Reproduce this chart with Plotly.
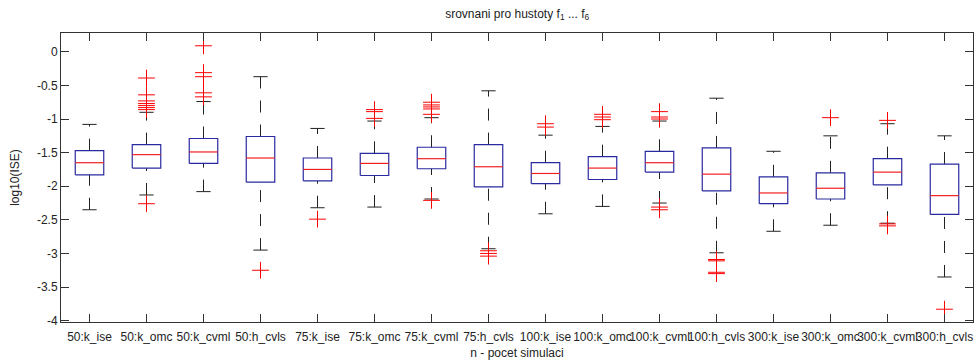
import plotly.graph_objects as go

labels = ["50:k_ise", "50:k_omc", "50:k_cvml", "50:h_cvls",
          "75:k_ise", "75:k_omc", "75:k_cvml", "75:h_cvls",
          "100:k_ise", "100:k_omc", "100:k_cvml", "100:h_cvls",
          "300:k_ise", "300:k_omc", "300:k_cvml", "300:h_cvls"]

upper_whisker = [-1.08, -0.90, -0.74, -0.37, -1.14, -1.03, -0.98, -0.58,
                 -1.24, -1.11, -1.03, -0.69, -1.48, -1.25, -1.07, -1.25]
q3 = [-1.47, -1.38, -1.29, -1.26, -1.58, -1.51, -1.42, -1.38,
      -1.65, -1.56, -1.48, -1.43, -1.86, -1.80, -1.59, -1.67]
median = [-1.65, -1.53, -1.49, -1.58, -1.75, -1.66, -1.59, -1.71,
          -1.81, -1.73, -1.65, -1.82, -2.10, -2.03, -1.79, -2.14]
q1 = [-1.83, -1.73, -1.66, -1.94, -1.92, -1.84, -1.74, -2.01,
      -1.96, -1.90, -1.79, -2.07, -2.26, -2.19, -1.98, -2.42]
lower_whisker = [-2.35, -2.13, -2.08, -2.95, -2.32, -2.31, -2.19, -2.93,
                 -2.41, -2.30, -2.25, -2.99, -2.67, -2.58, -2.55, -3.35]
outliers = [
    [],
    [-0.39, -0.64, -0.73, -0.77, -0.80, -0.83, -0.86, -2.26],
    [0.09, -0.31, -0.37, -0.61, -0.67],
    [-3.25],
    [-2.49],
    [-0.86, -0.89, -0.99],
    [-0.75, -0.79, -0.82, -0.85, -0.93, -2.21],
    [-2.96, -3.00, -3.04],
    [-1.07, -1.12],
    [-0.93, -0.97, -1.01],
    [-0.89, -0.97, -1.00, -2.31, -2.35],
    [-3.09, -3.11, -3.28, -3.30],
    [],
    [-0.98],
    [-1.02, -2.56, -2.59],
    [-3.83],
]

BOX_HW = 0.25
CAP_HW = 0.125

box_x, box_y = [], []
med_x, med_y = [], []
wh_x, wh_y = [], []
cap_x, cap_y = [], []
out_x, out_y = [], []
for i in range(len(labels)):
    c = i + 1
    box_x += [c - BOX_HW, c + BOX_HW, c + BOX_HW, c - BOX_HW, c - BOX_HW, None]
    box_y += [q1[i], q1[i], q3[i], q3[i], q1[i], None]
    med_x += [c - BOX_HW, c + BOX_HW, None]
    med_y += [median[i], median[i], None]
    # whiskers drawn from lower value to higher value
    wh_x += [c, c, None, c, c, None]
    wh_y += [q3[i], upper_whisker[i], None, lower_whisker[i], q1[i], None]
    cap_x += [c - CAP_HW, c + CAP_HW, None, c - CAP_HW, c + CAP_HW, None]
    cap_y += [upper_whisker[i], upper_whisker[i], None, lower_whisker[i], lower_whisker[i], None]
    for v in outliers[i]:
        out_x.append(c)
        out_y.append(v)

fig = go.Figure()
fig.add_trace(go.Scatter(x=wh_x, y=wh_y, mode="lines",
                         line=dict(color="#222222", width=1, dash="12px,12px"),
                         hoverinfo="skip"))
fig.add_trace(go.Scatter(x=cap_x, y=cap_y, mode="lines",
                         line=dict(color="#222222", width=1), hoverinfo="skip"))
fig.add_trace(go.Scatter(x=box_x, y=box_y, mode="lines",
                         line=dict(color="#2a2aa0", width=1.2), hoverinfo="skip"))
fig.add_trace(go.Scatter(x=med_x, y=med_y, mode="lines",
                         line=dict(color="#f02020", width=1.2), hoverinfo="skip"))
fig.add_trace(go.Scatter(x=out_x, y=out_y, mode="markers",
                         marker=dict(symbol="cross-thin", size=12,
                                     line=dict(color="#ff0000", width=1)),
                         hoverinfo="skip"))

FONT = dict(family="Liberation Sans, Arial", size=12, color="#222")
axis_common = dict(showline=True, linecolor="#333333", linewidth=1, mirror="allticks",
                   ticks="inside", ticklen=8, tickcolor="#333333", showgrid=False,
                   zeroline=False, tickfont=FONT, automargin=False)

fig.update_layout(
    width=974, height=360,
    margin=dict(l=61, r=1, t=33, b=38),
    plot_bgcolor="white", paper_bgcolor="white",
    showlegend=False,
    title=dict(text="srovnani pro hustoty f<sub>1</sub> ... f<sub>6</sub>",
               x=0.531, xanchor="center", y=0.962, yanchor="middle",
               font=FONT),
    xaxis=dict(range=[0.5, 16.5], tickmode="array", tickangle=0,
               tickvals=list(range(1, len(labels) + 1)), ticktext=labels,
               ticklabelstandoff=4,
               title=dict(text="n - pocet simulaci", standoff=6, font=FONT),
               **axis_common),
    yaxis=dict(range=[-4.02, 0.28], tickmode="array",
               tickvals=[0, -0.5, -1, -1.5, -2, -2.5, -3, -3.5, -4],
               ticktext=["0", "-0.5", "-1", "-1.5", "-2", "-2.5", "-3", "-3.5", "-4"],
               title=dict(text="log10(ISE)", standoff=14, font=FONT),
               **axis_common),
)

fig.write_html("out.html")
